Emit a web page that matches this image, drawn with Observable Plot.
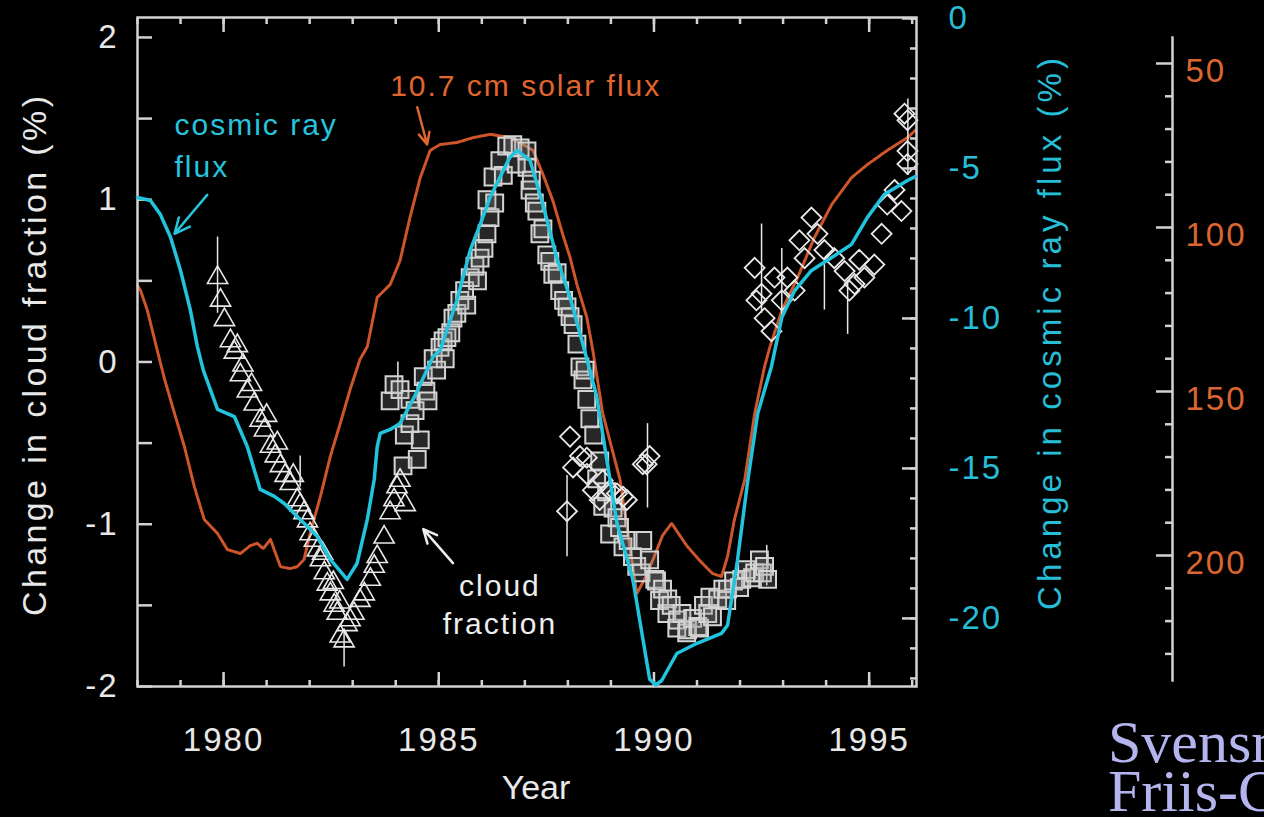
<!DOCTYPE html>
<html>
<head>
<meta charset="utf-8">
<script src="https://cdn.jsdelivr.net/npm/d3@7"></script>
<script src="https://cdn.jsdelivr.net/npm/@observablehq/plot@0.6"></script>
<style>
  html, body { margin: 0; padding: 0; background: #000; width: 1264px; height: 817px; overflow: hidden; }
  #chart { position: relative; width: 1264px; height: 817px; }
  #chart svg { position: absolute; left: 0; top: 0; }
  #credit {
    position: absolute; left: 1108px; top: 718px;
    font-family: "Liberation Serif", "Times New Roman", serif;
    font-size: 60px; line-height: 49px; color: #b4b4ee; white-space: nowrap;
  }
</style>
</head>
<body>
<div id="chart"></div>
<div id="credit">Svensmark &amp;<br>Friis-Christensen</div>
<script>
// ---- Cosmic ray flux (% change, right-hand axis) ----
const cosmicYear = [1978.00,1978.30,1978.53,1978.77,1979.00,1979.23,1979.39,1979.53,1979.86,1980.25,1980.55,1980.85,1981.18,1981.41,1981.78,1982.18,1982.48,1982.87,1983.10,1983.34,1983.50,1983.57,1983.64,1983.87,1984.10,1984.45,1984.87,1985.03,1985.42,1985.73,1985.96,1986.19,1986.42,1986.65,1986.82,1987.12,1987.42,1987.74,1988.05,1988.35,1988.67,1989.14,1989.51,1989.90,1990.04,1990.18,1990.53,1991.00,1991.57,1991.71,1991.94,1992.18,1992.41,1992.73,1992.97,1993.27,1993.66,1994.13,1994.59,1994.96,1995.35,1995.89,1996.07];
const cosmicFlux = [-5.97,-6.07,-6.53,-7.30,-8.40,-9.73,-10.93,-11.73,-13.03,-13.27,-14.27,-15.70,-15.93,-16.17,-16.70,-17.27,-18.03,-18.70,-18.17,-16.70,-15.37,-14.27,-13.83,-13.70,-13.50,-12.57,-11.27,-11.07,-9.40,-7.73,-6.87,-5.97,-5.30,-4.63,-4.40,-4.73,-6.20,-7.97,-9.30,-10.87,-12.60,-16.83,-18.70,-22.03,-22.22,-22.07,-21.17,-20.83,-20.50,-20.23,-18.07,-15.40,-13.17,-11.60,-9.97,-9.07,-8.40,-7.97,-7.53,-6.63,-5.87,-5.40,-5.27];

// ---- 10.7 cm solar flux (inverted far-right axis) ----
const solarYear = [1978.00,1978.07,1978.23,1978.46,1978.63,1978.86,1979.09,1979.32,1979.55,1979.86,1980.09,1980.39,1980.62,1980.78,1980.92,1981.09,1981.32,1981.55,1981.71,1981.87,1982.01,1982.25,1982.48,1982.71,1982.94,1983.17,1983.34,1983.57,1983.87,1984.10,1984.33,1984.57,1984.80,1985.03,1985.42,1985.80,1986.19,1986.65,1986.96,1987.19,1987.42,1987.65,1987.88,1988.05,1988.21,1988.44,1988.58,1988.81,1989.21,1989.44,1989.60,1989.79,1989.97,1990.20,1990.41,1990.60,1990.78,1991.06,1991.36,1991.57,1991.71,1991.87,1992.11,1992.34,1992.57,1992.69,1992.97,1993.34,1993.73,1994.13,1994.59,1994.96,1995.42,1995.89,1996.07];
const solarFlux = [117.7,119.2,125.3,137.5,146.3,156.7,166.8,179.0,189.0,193.3,198.2,199.4,197.0,196.3,197.9,195.1,203.4,204.0,203.4,201.2,193.3,182.0,169.8,159.8,149.4,140.2,136.3,121.3,117.4,110.1,97.0,84.8,76.5,74.7,74.1,72.6,71.6,72.6,74.7,76.5,83.8,91.8,102.1,109.1,117.4,127.4,137.5,156.7,176.8,197.3,211.6,207.0,201.5,193.9,190.2,193.9,197.3,201.5,205.5,206.4,200.3,189.0,176.8,156.7,142.4,136.6,125.3,115.2,103.0,93.0,84.8,80.8,76.5,72.6,70.4];

// ---- Cloud fraction (% change, left axis), three satellite records ----
const triYear = [1979.86,1979.93,1980.02,1980.16,1980.25,1980.32,1980.39,1980.45,1980.55,1980.65,1980.71,1980.85,1980.95,1981.00,1981.09,1981.20,1981.25,1981.32,1981.43,1981.55,1981.62,1981.71,1981.78,1981.87,1981.95,1982.01,1982.11,1982.18,1982.25,1982.30,1982.34,1982.41,1982.48,1982.55,1982.57,1982.64,1982.70,1982.71,1982.80,1982.87,1982.94,1983.03,1983.17,1983.27,1983.41,1983.50,1983.57,1983.73,1983.87,1983.96,1984.03,1984.10,1984.22];
const triCloud = [0.52,0.38,0.26,0.13,0.06,0.10,-0.08,-0.02,-0.18,-0.14,-0.26,-0.36,-0.42,-0.33,-0.52,-0.58,-0.50,-0.64,-0.70,-0.75,-0.70,-0.85,-0.88,-0.93,-0.98,-1.06,-1.10,-1.16,-1.22,-1.18,-1.30,-1.37,-1.43,-1.36,-1.50,-1.55,-1.48,-1.69,-1.72,-1.62,-1.59,-1.55,-1.47,-1.43,-1.34,-1.26,-1.20,-1.08,-0.93,-0.85,-0.77,-0.73,-0.88];

const sqYear = [1983.87,1983.96,1984.10,1984.17,1984.20,1984.33,1984.33,1984.45,1984.50,1984.57,1984.64,1984.70,1984.75,1984.87,1984.95,1985.03,1985.10,1985.15,1985.19,1985.28,1985.33,1985.42,1985.49,1985.60,1985.65,1985.73,1985.84,1985.90,1985.96,1986.05,1986.12,1986.12,1986.19,1986.26,1986.30,1986.42,1986.50,1986.58,1986.72,1986.80,1986.89,1987.05,1987.05,1987.12,1987.15,1987.22,1987.28,1987.35,1987.42,1987.51,1987.58,1987.65,1987.75,1987.81,1987.90,1987.98,1988.05,1988.12,1988.21,1988.28,1988.35,1988.40,1988.44,1988.51,1988.60,1988.67,1988.74,1988.81,1988.90,1988.97,1989.05,1989.14,1989.20,1989.28,1989.40,1989.50,1989.60,1989.70,1989.74,1989.90,1990.02,1990.06,1990.13,1990.20,1990.30,1990.32,1990.40,1990.53,1990.55,1990.65,1990.76,1990.78,1990.90,1991.02,1991.06,1991.15,1991.25,1991.30,1991.36,1991.48,1991.60,1991.69,1991.71,1991.85,1991.99,1992.04,1992.15,1992.29,1992.34,1992.45,1992.52,1992.57,1992.64];
const sqCloud = [-0.24,-0.14,-0.17,-0.64,-0.45,-0.38,-0.23,-0.30,-0.60,-0.48,-0.09,-0.18,-0.24,0.02,-0.05,0.09,0.13,0.02,0.15,0.18,0.27,0.30,0.38,0.44,0.35,0.52,0.59,0.50,0.64,0.70,0.79,1.00,0.89,1.14,0.98,1.24,1.15,1.33,1.34,1.22,1.32,1.30,1.20,1.06,1.12,0.98,0.93,0.79,0.82,0.66,0.62,0.54,0.55,0.44,0.38,0.34,0.28,0.23,0.11,-0.03,-0.11,-0.05,-0.23,-0.35,-0.45,-0.72,-0.61,-0.89,-0.80,-1.06,-0.90,-0.96,-1.02,-1.14,-1.10,-1.20,-1.26,-1.30,-1.10,-1.22,-1.34,-1.35,-1.47,-1.40,-1.55,-1.46,-1.50,-1.64,-1.59,-1.55,-1.67,-1.65,-1.58,-1.63,-1.64,-1.50,-1.55,-1.45,-1.57,-1.46,-1.40,-1.47,-1.40,-1.35,-1.39,-1.34,-1.28,-1.33,-1.30,-1.22,-1.30,-1.26,-1.34];

const dmYear = [1987.98,1988.05,1988.12,1988.28,1988.44,1988.44,1988.58,1988.74,1988.81,1988.97,1989.14,1989.28,1989.37,1989.74,1989.83,1989.90,1992.34,1992.38,1992.50,1992.57,1992.73,1992.80,1992.97,1993.10,1993.27,1993.38,1993.50,1993.66,1993.80,1993.96,1994.19,1994.43,1994.54,1994.66,1994.77,1994.89,1995.12,1995.29,1995.42,1995.59,1995.75,1995.89,1995.89,1995.89,1995.82];
const dmCloud = [-0.92,-0.46,-0.65,-0.58,-0.59,-0.69,-0.79,-0.85,-0.73,-0.79,-0.81,-0.83,-0.85,-0.63,-0.63,-0.58,0.58,0.38,0.42,0.27,0.19,0.52,0.38,0.52,0.44,0.75,0.64,0.89,0.79,0.69,0.64,0.56,0.44,0.48,0.63,0.52,0.60,0.79,0.97,1.06,0.93,1.22,1.30,1.49,1.53];

// Error bars drawn on selected points
const errYear = [1979.86,1981.78,1982.80,1984.05,1987.98,1989.85,1992.62,1992.50,1992.97,1993.96,1994.50,1995.90];
const errLow  = [0.30,-0.77,-1.88,-0.23,-1.20,-0.90,-1.38,0.30,0.25,0.32,0.17,1.15];
const errHigh = [0.77,-0.58,-1.65,0.00,-0.70,-0.38,-1.13,0.85,0.70,0.60,0.50,1.62];

// ---- Axis ticks ----
const cloudTicks  = [-2, -1, 0, 1, 2];
const cosmicTicks = [0, -5, -10, -15, -20];
const solarTicks  = [50, 100, 150, 200];
const yearTicks   = [1980, 1985, 1990, 1995];

// ---- In-plot annotations (positioned in year / cloud-fraction units) ----
const noteText   = ["10.7 cm solar flux", "cosmic ray", "flux", "cloud", "fraction"];
const noteYear   = [1983.87, 1978.86, 1978.86, 1986.42, 1986.42];
const noteCloud  = [1.70, 1.46, 1.20, -1.38, -1.62];
const noteColor  = ["#e0652f", "#26c4dd", "#26c4dd", "#eeeeee", "#eeeeee"];
const noteAnchor = ["start", "start", "start", "middle", "middle"];

const arrowYear1  = [1984.50, 1979.62, 1985.33];
const arrowCloud1 = [1.57, 1.03, -1.24];
const arrowYear2  = [1984.73, 1978.86, 1984.64];
const arrowCloud2 = [1.34, 0.79, -1.03];
const arrowColor  = ["#e0652f", "#26c4dd", "#eeeeee"];

// ---- Build tables ----
const pairs = (xs, ys) => xs.map((x, i) => ({x, y: ys[i]}));
const cosmic = pairs(cosmicYear, cosmicFlux);
const solar = pairs(solarYear, solarFlux);
const triangles = pairs(triYear, triCloud);
const squares = pairs(sqYear, sqCloud);
const diamonds = pairs(dmYear, dmCloud);
const errors = errYear.map((x, i) => ({x, lo: errLow[i], hi: errHigh[i]}));
const notes = noteText.map((t, i) => ({t, x: noteYear[i], y: noteCloud[i], c: noteColor[i], a: noteAnchor[i]}));
const arrows = arrowYear1.map((x1, i) => ({x1, y1: arrowCloud1[i], x2: arrowYear2[i], y2: arrowCloud2[i], c: arrowColor[i]}));

// ---- Shared styling ----
const W = 1264, H = 817;
const font = "'Liberation Sans', Arial, Helvetica, sans-serif";
const white = "#e8e8e8", axisGray = "#d2d2d2";
const cyan = "#22c3dd", cyanText = "#26bdd6";
const orange = "#cf552a", orangeText = "#dc6630";
const years = [1978, 1996.1];
const leftTitle = "Change in cloud fraction (%)";
const rightTitle = "Change in cosmic ray flux (%)";
const base = {
  width: W, height: H,
  marginLeft: 137, marginRight: 348, marginTop: 17, marginBottom: 131,
  style: {background: "transparent", fontFamily: font, color: white, overflow: "visible"}
};
const tickStyle = {fill: "none", stroke: axisGray, strokeWidth: 2.5};

// Solar flux: its own inverted scale, axis placed to the right of the frame
const solarPlot = Plot.plot({
  width: W, height: H,
  marginLeft: 137, marginRight: 92, marginTop: 37, marginBottom: 137,
  style: {background: "transparent", fontFamily: font, color: white, overflow: "visible"},
  x: {domain: years, range: [137, 916], axis: null},
  y: {domain: [50, 200], range: [63, 555], axis: null},
  marks: [
    Plot.line(solar, {x: "x", y: "y", stroke: orange, strokeWidth: 3, strokeDasharray: "3 1.5"}),
    Plot.frame({anchor: "right", stroke: axisGray, strokeWidth: 2.5}),
    Plot.axisY({anchor: "right", ticks: d3.range(60, 231, 10).filter(v => v % 50), tickSize: -8, ...tickStyle}),
    Plot.axisY({anchor: "right", ticks: solarTicks, tickSize: -17, ...tickStyle}),
    Plot.axisY({anchor: "right", ticks: solarTicks, tickSize: 0, tickPadding: 13, dy: 8,
      tickFormat: d => String(d), fill: orangeText, fontSize: 33, label: null})
  ]
});

// Cloud fraction: main frame, left and bottom axes, markers
const cloudPlot = Plot.plot({
  ...base,
  x: {domain: years, axis: null},
  y: {domain: [-2, 2.123], axis: null},
  marks: [
    Plot.ruleX(errors, {x: "x", y1: "lo", y2: "hi", stroke: white, strokeWidth: 1.5}),
    Plot.dot(squares, {x: "x", y: "y", symbol: "square", r: 9.5, stroke: "#d4d4d4", strokeWidth: 2, fill: "#9a9a9a", fillOpacity: 0.25}),
    Plot.dot(triangles, {x: "x", y: "y", symbol: "triangle", r: 7.5, stroke: white, strokeWidth: 1.6, fill: "none"}),
    Plot.dot(diamonds, {x: "x", y: "y", symbol: "diamond2", r: 9, stroke: white, strokeWidth: 1.8, fill: "none"}),
    Plot.frame({stroke: axisGray, strokeWidth: 2.5}),
    Plot.axisY({ticks: d3.range(-2, 2.01, 0.5), tickSize: -15, ...tickStyle}),
    Plot.axisY({ticks: cloudTicks, tickSize: 0, tickPadding: 19, tickFormat: d => String(d),
      fill: white, fontSize: 33, label: null}),
    Plot.axisX({anchor: "bottom", ticks: d3.range(1978, 1997), tickSize: -6, ...tickStyle}),
    Plot.axisX({anchor: "bottom", ticks: yearTicks, tickSize: -14, ...tickStyle}),
    Plot.axisX({anchor: "top", ticks: d3.range(1978, 1997), tickSize: -6, ...tickStyle}),
    Plot.axisX({anchor: "top", ticks: yearTicks, tickSize: -14, ...tickStyle}),
    Plot.axisX({anchor: "bottom", ticks: yearTicks, tickSize: 0, tickPadding: 41, tickFormat: d => String(d),
      fill: white, fontSize: 33, label: null}),
    Plot.text(["Year"], {frameAnchor: "bottom", dx: 9, dy: 112, fill: white, fontSize: 34}),
    Plot.text([leftTitle], {frameAnchor: "left", textAnchor: "middle", rotate: -90, dx: -102, dy: 4,
      fill: white, fontSize: 34}),
    Plot.text(notes, {x: "x", y: "y", text: "t", fill: "c", textAnchor: "start", fontSize: 30,
      filter: d => d.a === "start"}),
    Plot.text(notes, {x: "x", y: "y", text: "t", fill: "c", textAnchor: "middle", fontSize: 30,
      filter: d => d.a === "middle"}),
    Plot.arrow(arrows, {x1: "x1", y1: "y1", x2: "x2", y2: "y2", stroke: "c", strokeWidth: 2.5, headLength: 14, headAngle: 50})
  ]
});

// Cosmic ray flux: its own scale and axis on the right edge of the frame
const cosmicPlot = Plot.plot({
  ...base,
  x: {domain: years, axis: null},
  y: {domain: [-22.27, 0.033], axis: null},
  marks: [
    Plot.line(cosmic, {x: "x", y: "y", stroke: cyan, strokeWidth: 3.5}),
    Plot.axisY({anchor: "right", ticks: d3.range(-22, 1, 1), tickSize: -7, ...tickStyle}),
    Plot.axisY({anchor: "right", ticks: cosmicTicks, tickSize: -15, ...tickStyle}),
    Plot.axisY({anchor: "right", ticks: cosmicTicks, tickSize: 0, tickPadding: 32, tickFormat: d => String(d),
      fill: cyanText, fontSize: 33, label: null}),
    Plot.text([rightTitle], {frameAnchor: "right", textAnchor: "middle", rotate: -90, dx: 134, dy: -18,
      fill: cyanText, fontSize: 33})
  ]
});

const chart = document.getElementById("chart");
chart.append(solarPlot, cloudPlot, cosmicPlot);

// The original lettering is widely spaced; widen the SVG text to suit,
// and stretch the two rotated axis titles to their full length.
d3.selectAll("#chart svg text").style("letter-spacing", "2px");
d3.selectAll("#chart svg text")
  .filter(function() { return this.textContent === "Year"; })
  .style("letter-spacing", "0px");
d3.selectAll("#chart svg text")
  .filter(function() { return this.textContent === leftTitle; })
  .style("letter-spacing", "0px").attr("textLength", 520).attr("lengthAdjust", "spacing");
d3.selectAll("#chart svg text")
  .filter(function() { return this.textContent === rightTitle; })
  .style("letter-spacing", "0px").attr("textLength", 552).attr("lengthAdjust", "spacing");
</script>
</body>
</html>
